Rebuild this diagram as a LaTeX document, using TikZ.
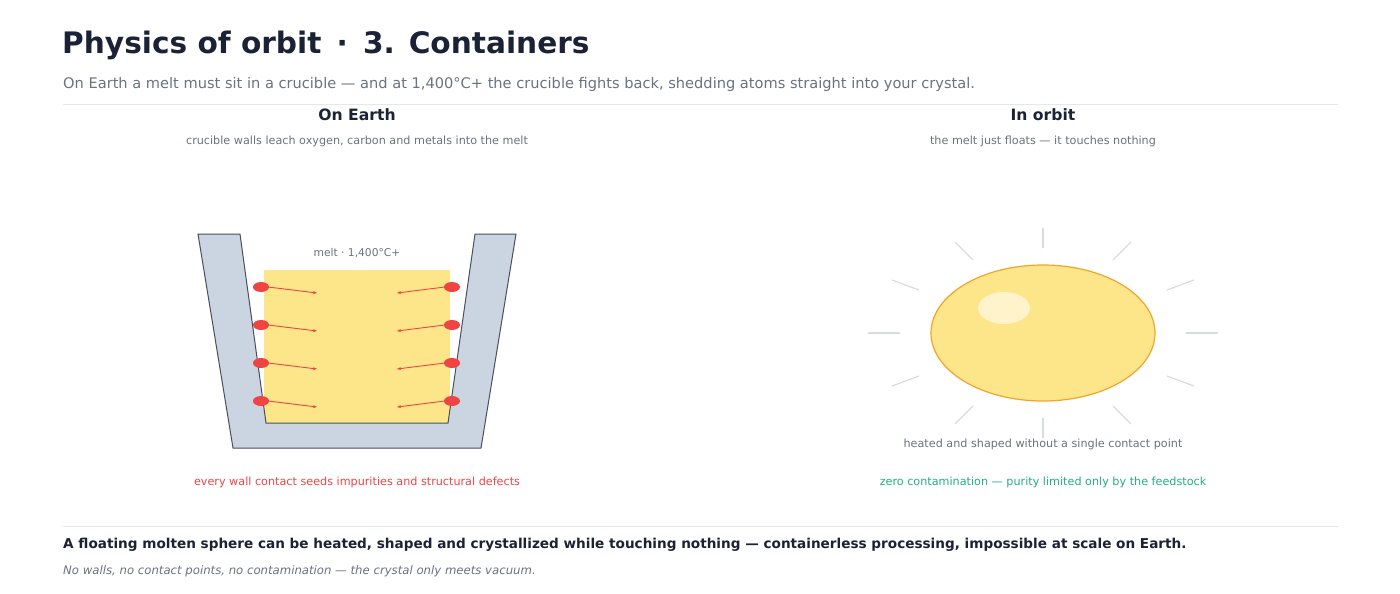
\documentclass[tikz,border=0pt]{standalone}
\usepackage{fontspec}
\setmainfont{DejaVu Sans}
\begin{document}
\begin{tikzpicture}[x=1pt,y=-1pt,
  txt/.style={inner sep=0pt,anchor=center},
  small/.style={txt,font=\fontsize{11.2}{13}\selectfont},
  dot/.style={fill=dotred,draw=none},
  arr/.style={draw=dotred,line width=0.9pt,-{Stealth[length=4pt,width=3pt]}},
  ray/.style={draw=raygray,line width=1.2pt}]
\usetikzlibrary{arrows.meta}
\definecolor{ink}{HTML}{1B2236}
\definecolor{gtext}{HTML}{6B7280}
\definecolor{rule}{HTML}{E5E7EB}
\definecolor{wall}{HTML}{CBD5E1}
\definecolor{melt}{HTML}{FDE68A}
\definecolor{dotred}{HTML}{EF4444}
\definecolor{raygray}{HTML}{D7DCE4}
\definecolor{orange}{HTML}{F0A52A}
\definecolor{green}{HTML}{22B07D}
\useasboundingbox (0,0) rectangle (1400,594);
\fill[white] (0,0) rectangle (1400,594);
\node[txt,anchor=west,font=\fontsize{29.6}{32}\selectfont\bfseries,text=ink] (title) at (62,45) {Physics of orbit \,·\, 3. Containers};
\node[txt,anchor=west,font=\fontsize{14.6}{16}\selectfont,text=gtext] (sub) at (63,84) {On Earth a melt must sit in a crucible — and at 1,400°C+ the crucible fights back, shedding atoms straight into your crystal.};
\draw[rule,line width=1pt] (63,104) -- (1338,104);
\node[txt,font=\fontsize{15.6}{17}\selectfont\bfseries,text=ink] (h1) at (357,115) {On Earth};
\node[txt,font=\fontsize{15.6}{17}\selectfont\bfseries,text=ink] (h2) at (1043,115) {In orbit};
\node[small,text=gtext] (s1) at (357,141) {crucible walls leach oxygen, carbon and metals into the melt};
\node[small,text=gtext] (s2) at (1043,141) {the melt just floats — it touches nothing};
% crucible
\fill[melt] (264,270) rectangle (450,423);
\filldraw[fill=wall,draw=ink!80,line width=1pt] (198,234) -- (240,234) -- (266,423) -- (448,423) -- (475,234) -- (516,234) -- (481,448) -- (233,448) -- cycle;
\node[txt,font=\fontsize{10.7}{12}\selectfont,text=gtext] (mlabel) at (357,253) {melt · 1,400°C+};
\foreach \y [count=\i] in {287,325,363,401}{
  \fill[dot] (261,\y) ellipse (8 and 5);
  \fill[dot] (452,\y) ellipse (8 and 5);
  \coordinate (l\i) at (268,\y);
  \coordinate (lt\i) at (317,\y+6);
  \coordinate (r\i) at (445,\y);
  \coordinate (rt\i) at (397,\y+6);
  \draw[arr] (l\i) -- (lt\i);
  \draw[arr] (r\i) -- (rt\i);
}
\node[small,text=dotred] (bad) at (357,482) {every wall contact seeds impurities and structural defects};
% sphere
\foreach \a/\b/\c/\d in {1043/228/1043/248, 1113/260/1131/242, 1167/290/1194/280, 1186/333/1218/333, 1167/376/1194/386, 1113/406/1131/424, 1043/418/1043/438, 973/406/955/424, 919/376/892/386, 900/333/868/333, 919/290/892/280, 973/260/955/242}{
  \draw[ray] (\a,\b) -- (\c,\d);
}
\filldraw[fill=melt,draw=orange,line width=1.2pt] (1043,333) ellipse (112 and 68);
\fill[white,opacity=0.55] (1004,308) ellipse (26 and 16);
\node[small,text=gtext] (cap) at (1043,444) {heated and shaped without a single contact point};
\node[small,text=green] (good) at (1043,482) {zero contamination — purity limited only by the feedstock};
\draw[rule,line width=1pt] (63,526) -- (1338,526);
\node[txt,anchor=west,font=\fontsize{13.6}{15}\selectfont\bfseries,text=ink] (conc) at (63,545) {A floating molten sphere can be heated, shaped and crystallized while touching nothing — containerless processing, impossible at scale on Earth.};
\node[txt,anchor=west,font=\fontsize{11.7}{13}\selectfont\itshape,text=gtext] (note) at (63,571) {No walls, no contact points, no contamination — the crystal only meets vacuum.};
\end{tikzpicture}
\end{document}
